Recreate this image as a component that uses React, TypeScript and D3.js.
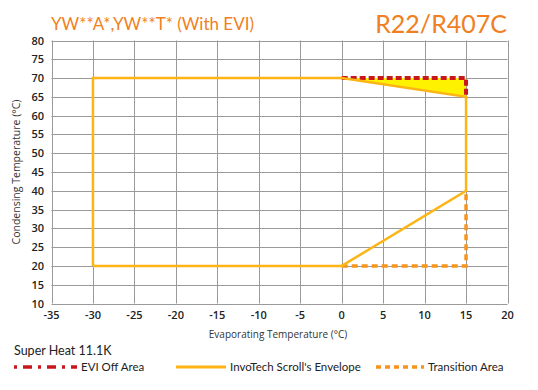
import * as d3 from "d3";
import React, { useEffect, useRef } from "react";

type Pt = [number, number];

// envelope outline (evaporating, condensing)
const envelope: Pt[] = [
  [-30, 20],
  [-30, 70],
  [0, 70],
  [15, 65],
  [15, 40],
  [0, 20],
  [-30, 20],
];
const eviOffArea: Pt[] = [
  [0, 70],
  [15, 70],
  [15, 65],
];
const eviFill: Pt[] = [
  [0, 70],
  [15, 70],
  [15, 65],
];
const transitionArea: Pt[] = [
  [0, 20],
  [15, 20],
  [15, 40],
];
const xTicks = d3.range(-35, 21, 5);
const yTicks = d3.range(10, 81, 5);

const legendItems = [
  { label: "EVI Off Area", color: "#c8161d", dash: "3,6,9,6", width: 3.5 },
  { label: "InvoTech Scroll's Envelope", color: "#fdb515", dash: "", width: 3 },
  { label: "Transition Area", color: "#f7941d", dash: "5,4", width: 3.5 },
];

const App: React.FC = () => {
  const svgRef = useRef<SVGSVGElement | null>(null);

  useEffect(() => {
    const svg = d3.select(svgRef.current);
    svg.selectAll("*").remove();

    const x = d3.scaleLinear().domain([-35, 20]).range([51.5, 507.5]);
    const y = d3.scaleLinear().domain([10, 80]).range([303.5, 40.5]);
    const line = d3
      .line<Pt>()
      .x((d) => x(d[0]))
      .y((d) => y(d[1]));

    // titles
    svg
      .append("text")
      .attr("x", 51)
      .attr("y", 30)
      .attr("fill", "#f07f22")
      .attr("font-family", "Lato, sans-serif")
      .attr("font-size", 17)
      .text("YW**A*,YW**T* (With EVI)");
    svg
      .append("text")
      .attr("x", 507)
      .attr("y", 33)
      .attr("text-anchor", "end")
      .attr("fill", "#f07f22")
      .attr("font-family", "Lato, sans-serif")
      .attr("font-size", 25)
      .text("R22/R407C");

    // grid
    const grid = svg.append("g").attr("stroke", "#9a9a9a").attr("stroke-width", 1);
    grid
      .selectAll("line.v")
      .data(xTicks)
      .join("line")
      .attr("class", "v")
      .attr("x1", (d) => Math.round(x(d)) + 0.5)
      .attr("x2", (d) => Math.round(x(d)) + 0.5)
      .attr("y1", y(80))
      .attr("y2", y(10));
    grid
      .selectAll("line.h")
      .data(yTicks)
      .join("line")
      .attr("class", "h")
      .attr("y1", (d) => Math.round(y(d)) + 0.5)
      .attr("y2", (d) => Math.round(y(d)) + 0.5)
      .attr("x1", x(-35))
      .attr("x2", x(20));

    // tick labels
    const tickFont = "'Open Sans', 'DejaVu Sans', sans-serif";
    svg
      .append("g")
      .selectAll("text")
      .data(xTicks)
      .join("text")
      .attr("x", (d) => x(d))
      .attr("y", 319)
      .attr("text-anchor", "middle")
      .attr("font-family", tickFont)
      .attr("font-size", 11)
      .attr("font-weight", 600)
      .attr("fill", "#222")
      .text((d) => d);
    svg
      .append("g")
      .selectAll("text")
      .data(yTicks)
      .join("text")
      .attr("x", 44)
      .attr("y", (d) => y(d) + 4)
      .attr("text-anchor", "end")
      .attr("font-family", tickFont)
      .attr("font-size", 11)
      .attr("font-weight", 600)
      .attr("fill", "#222")
      .text((d) => d);

    // axis titles
    svg
      .append("text")
      .attr("x", 278)
      .attr("y", 338)
      .attr("text-anchor", "middle")
      .attr("font-family", tickFont)
      .attr("font-size", 10)
      .attr("fill", "#333")
      .text("Evaporating Temperature (°C)");
    svg
      .append("text")
      .attr("transform", `translate(20,${y(45)}) rotate(-90)`)
      .attr("text-anchor", "middle")
      .attr("font-family", tickFont)
      .attr("font-size", 10.5)
      .attr("fill", "#333")
      .text("Condensing Temperature (°C)");

    // yellow fill of EVI off area
    svg
      .append("path")
      .attr("d", line(eviFill) + "Z")
      .attr("fill", "#fff200");

    // red EVI off boundary
    svg
      .append("path")
      .attr("d", line(eviOffArea))
      .attr("fill", "none")
      .attr("stroke", "#c8161d")
      .attr("stroke-width", 4)
      .attr("stroke-dasharray", "6,3");

    // transition area
    svg
      .append("path")
      .attr("d", line(transitionArea))
      .attr("fill", "none")
      .attr("stroke", "#f7941d")
      .attr("stroke-width", 3.5)
      .attr("stroke-dasharray", "6,4");

    // envelope
    svg
      .append("path")
      .attr("d", line(envelope))
      .attr("fill", "none")
      .attr("stroke", "#fdb515")
      .attr("stroke-width", 2.5)
      .attr("stroke-linejoin", "miter");

    // legend
    const legFont = "Lato, sans-serif";
    svg
      .append("text")
      .attr("x", 14)
      .attr("y", 355)
      .attr("font-family", legFont)
      .attr("font-size", 12.5)
      .attr("fill", "#222")
      .text("Super Heat 11.1K");

    const legX = [14, 176, 376];
    const legW = [63, 50, 48];
    const leg = svg
      .append("g")
      .selectAll("g")
      .data(legendItems)
      .join("g")
      .attr("transform", (_, i) => `translate(${legX[i]},367)`);
    leg
      .append("line")
      .attr("x1", 0)
      .attr("x2", (_, i) => legW[i])
      .attr("stroke", (d) => d.color)
      .attr("stroke-width", (d) => d.width)
      .attr("stroke-dasharray", (d) => d.dash || null);
    leg
      .append("text")
      .attr("x", (_, i) => legW[i] + 4)
      .attr("y", 4)
      .attr("font-family", legFont)
      .attr("font-size", 11.5)
      .attr("fill", "#222")
      .text((d) => d.label);
  }, []);

  return (
    <svg
      ref={svgRef}
      width={538}
      height={390}
      style={{ position: "absolute", left: 0, top: 0, background: "#fff" }}
    />
  );
};

export default App;
